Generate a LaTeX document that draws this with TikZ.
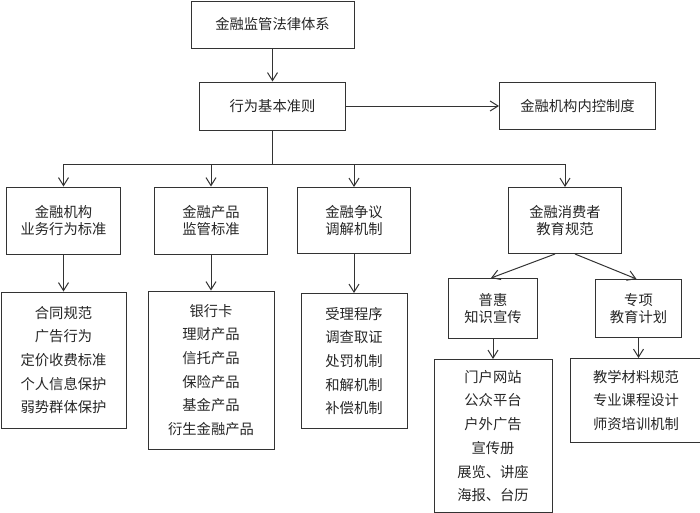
\documentclass[tikz,border=0pt]{standalone}
\usepackage{fontspec}
\newfontfamily\cjk{Noto Sans CJK SC}
\usetikzlibrary{positioning, arrows.meta}

\begin{document}
\begin{tikzpicture}[
    block/.style={align=center, draw=black!80, line width=1pt, inner sep=0pt,
        text=black!85, font=\cjk\fontsize{14.3}{16.5}\selectfont},
    itemlist/.style={block, font=\cjk\fontsize{14.3}{23.7}\selectfont},
    arrow/.style={-{Straight Barb[length=8pt, width=10pt]}, draw=black!80, line width=1pt}
]
    \useasboundingbox (0,0) rectangle (700pt,-512pt);

    % NODES
    \node[block, minimum width=163pt, minimum height=47pt] (law) at (272.5pt,-24.5pt) {金融监管法律体系};
    \node[block, minimum width=146pt, minimum height=48pt, below=33pt of law] (rule) {行为基本准则};
    \node[block, minimum width=156pt, minimum height=47pt, right=153pt of rule] (control) {金融机构内控制度};

    \node[block, minimum width=114pt, minimum height=67pt, below left=56pt and 78pt of rule] (conduct) {金融机构\\业务行为标准};
    \node[block, minimum width=113pt, minimum height=67pt, right=33pt of conduct] (product) {金融产品\\监管标准};
    \node[block, minimum width=113pt, minimum height=66pt, right=29pt of product] (dispute) {金融争议\\调解机制};
    \node[block, minimum width=113pt, minimum height=66pt, right=97pt of dispute] (education) {金融消费者\\教育规范};

    \node[itemlist, minimum width=125pt, minimum height=136pt, below=37pt of conduct] (conduct_list) {合同规范\\广告行为\\定价收费标准\\个人信息保护\\弱势群体保护};
    \node[itemlist, minimum width=126pt, minimum height=158pt, below=36pt of product] (product_list) {银行卡\\理财产品\\信托产品\\保险产品\\基金产品\\衍生金融产品};
    \node[itemlist, minimum width=106pt, minimum height=135pt, below=39pt of dispute] (dispute_list) {受理程序\\调查取证\\处罚机制\\和解机制\\补偿机制};

    \node[block, minimum width=89pt, minimum height=60pt, below=24pt of education, xshift=-72pt] (inclusive) {普惠\\知识宣传};
    \node[block, minimum width=86pt, minimum height=58pt, right=57pt of inclusive] (special) {专项\\教育计划};
    \node[itemlist, minimum width=118pt, minimum height=153pt, below=20pt of inclusive] (inclusive_list) {门户网站\\公众平台\\户外广告\\宣传册\\展览、讲座\\海报、台历};
    \node[itemlist, minimum width=131pt, minimum height=84pt, below=20pt of special, xshift=-2.5pt] (special_list) {教学材料规范\\专业课程设计\\师资培训机制};

    \coordinate[below=34pt of rule] (branch);

    % EDGES
    \draw[arrow] (law) -- (rule);
    \draw[arrow] (rule) -- (control);

    \draw[arrow] (rule) -- (branch) -| (conduct);
    \draw[arrow] (branch) -| (product);
    \draw[arrow] (branch) -| (dispute);
    \draw[arrow] (branch) -| (education);

    \draw[arrow] (conduct) -- (conduct_list);
    \draw[arrow] (product) -- (product_list);
    \draw[arrow] (dispute) -- (dispute_list);

    \draw[arrow] ([xshift=-10pt]education.south) -- ([xshift=-2pt]inclusive.north);
    \draw[arrow] ([xshift=10pt]education.south) -- ([xshift=-2pt]special.north);

    \draw[arrow] (inclusive) -- (inclusive_list);
    \draw[arrow] (special) -- ([xshift=2.5pt]special_list.north);

\end{tikzpicture}
\end{document}
